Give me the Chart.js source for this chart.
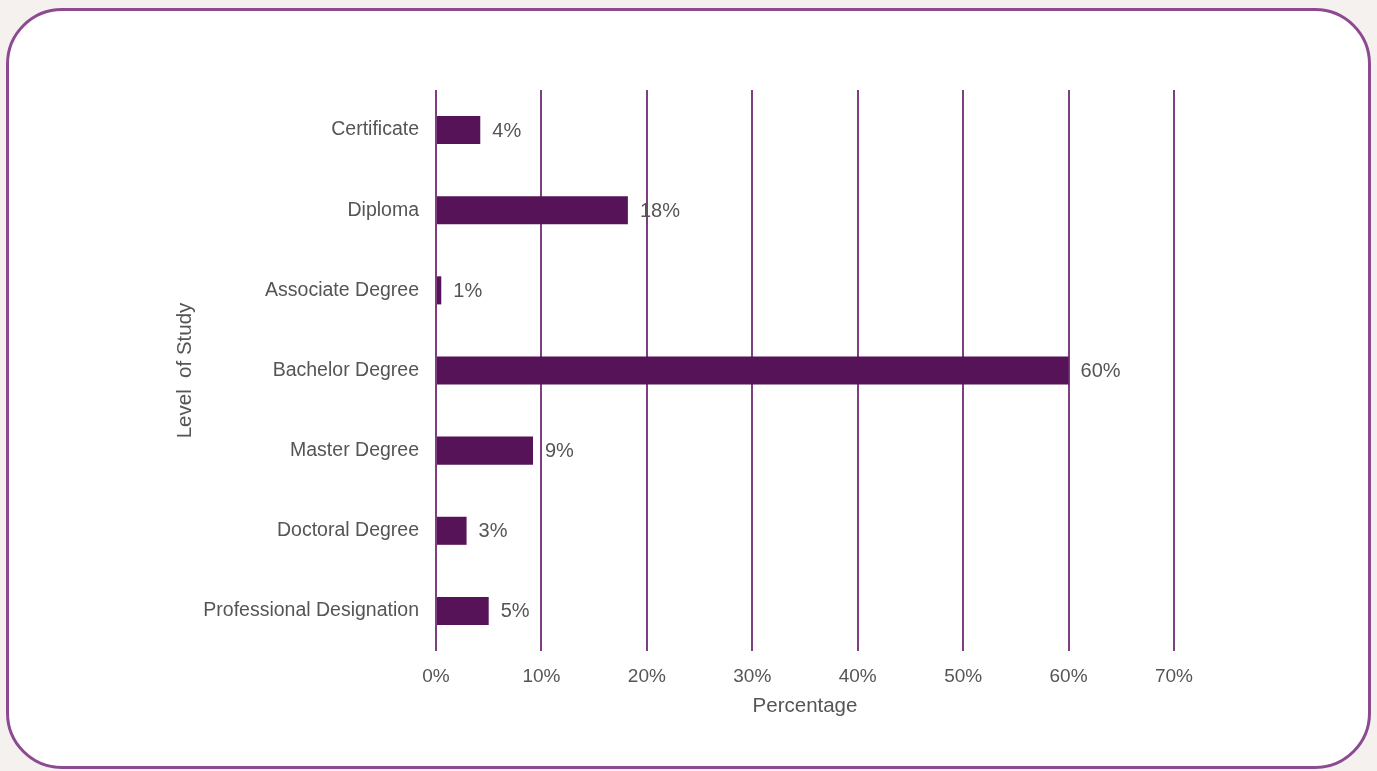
<!DOCTYPE html>
<html>
<head>
<meta charset="utf-8">
<script src="https://cdn.jsdelivr.net/npm/chart.js@4/dist/chart.umd.min.js"></script>
<style>
    html, body { margin: 0; padding: 0; background: #f4f1ef; }
    .card {
        position: absolute; left: 6px; top: 8px; width: 1359px; height: 755px;
        background: #fff; border: 3px solid #8d4a91; border-radius: 56px;
    }
    #wrap { position: absolute; left: 0; top: 0; width: 1377px; height: 771px; }
</style>
</head>
<body>
<div class="card"></div>
<div id="wrap"><canvas id="levelChart"></canvas></div>
<script>
// --- Data ---
const categories = ['Certificate', 'Diploma', 'Associate Degree', 'Bachelor Degree', 'Master Degree', 'Doctoral Degree', 'Professional Designation'];
const percentages = [4.2, 18.2, 0.5, 60, 9.2, 2.9, 5];
const valueLabels = ['4%', '18%', '1%', '60%', '9%', '3%', '5%'];
const xTicks = [0, 10, 20, 30, 40, 50, 60, 70];

const textColor = '#555555';
const family = "'Liberation Sans', Arial, sans-serif";
const tickFontY = { family: family, size: 19.5 };
const tickFontX = { family: family, size: 19 };
const titleFont = { family: family, size: 20.5 };
const labelSize = 20;

// draws the % label just after each bar
const barLabels = {
    id: 'barLabels',
    afterDatasetsDraw(chart) {
        const ctx = chart.ctx;
        const meta = chart.getDatasetMeta(0);
        ctx.save();
        ctx.font = `${labelSize}px ${family}`;
        ctx.fillStyle = textColor;
        ctx.textAlign = 'left';
        ctx.textBaseline = 'middle';
        meta.data.forEach((bar, i) => {
            ctx.fillText(valueLabels[i], bar.x + 12, bar.y + 1);
        });
        ctx.restore();
    }
};

const ctx = document.getElementById('levelChart').getContext('2d');
new Chart(ctx, {
    type: 'bar',
    data: {
        labels: categories,
        datasets: [{
            data: percentages,
            backgroundColor: '#561357',
            categoryPercentage: 1,
            barPercentage: 0.35
        }]
    },
    options: {
        indexAxis: 'y',
        responsive: true,
        maintainAspectRatio: false,
        animation: false,
        layout: { padding: { left: 170, right: 203, top: 90, bottom: 40 } },
        plugins: { legend: { display: false }, tooltip: { enabled: false } },
        scales: {
            x: {
                min: 0, max: 70,
                afterBuildTicks: axis => { axis.ticks = xTicks.map(v => ({ value: v })); },
                afterFit: axis => { axis.height = 80; },
                grid: { color: '#7d3f82', lineWidth: 2, drawTicks: false },
                border: { display: false },
                ticks: { color: textColor, font: tickFontX, padding: 14, callback: v => v + '%' },
                title: { display: true, text: 'Percentage', color: textColor, font: titleFont, padding: { top: 0, bottom: 12 } }
            },
            y: {
                afterFit: axis => { axis.width = 266; },
                grid: { display: false, drawTicks: false },
                border: { display: false },
                ticks: { color: textColor, font: tickFontY, padding: 17 },
                title: { display: true, text: 'Level  of Study', color: textColor, font: titleFont, padding: { top: 3, bottom: 0 } }
            }
        }
    },
    plugins: [barLabels]
});
</script>
</body>
</html>
